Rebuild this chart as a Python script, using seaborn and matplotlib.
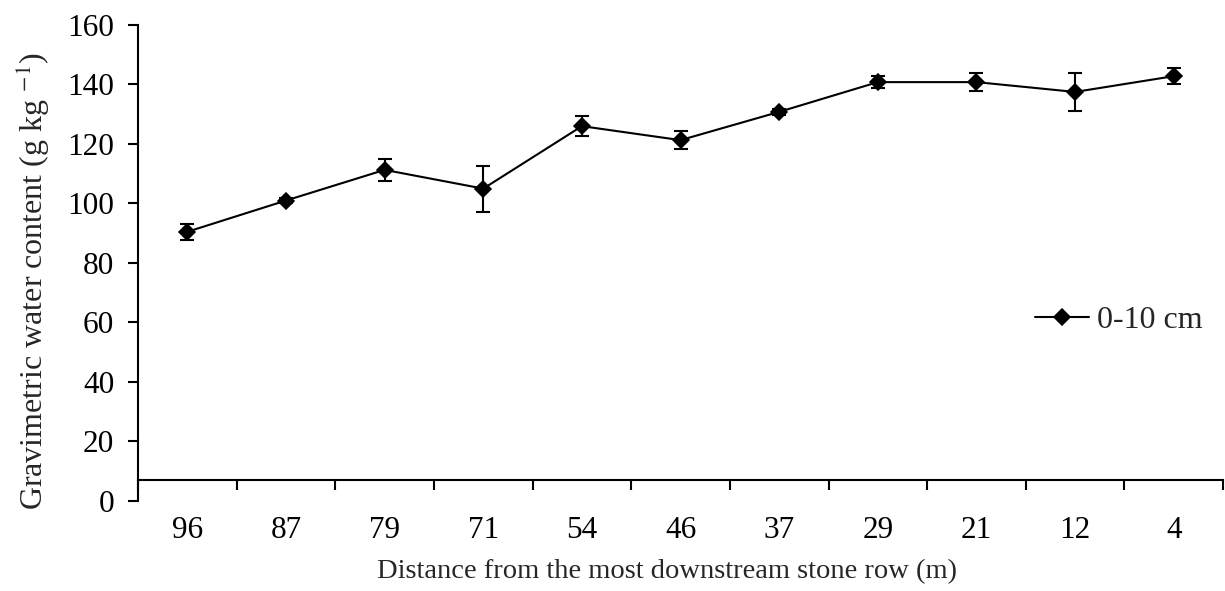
import numpy as np
import seaborn as sns
import matplotlib.pyplot as plt
from matplotlib.ticker import FixedLocator

# values
distances = ["96", "87", "79", "71", "54", "46", "37", "29", "21", "12", "4"]
water = [90.5, 101.0, 111.3, 105.0, 126.0, 121.3, 130.8, 140.8, 140.8, 137.5, 142.8]
err = [2.7, 1.0, 3.6, 7.7, 3.3, 3.0, 1.0, 2.0, 3.0, 6.5, 2.7]
series_name = "0-10 cm"

sns.set_theme(style="white")
plt.rcParams["font.family"] = ["Liberation Serif", "DejaVu Serif"]
plt.rcParams["mathtext.fontset"] = "stix"

fig = plt.figure(figsize=(12.25, 5.91), dpi=100)
ax = fig.add_axes([0.1127, 0.1523, 0.8857, 0.8054])

sns.pointplot(x=distances, y=water, ax=ax, color="black", markers="D",
              linestyles="-", errorbar=None, label=series_name,
              markersize=8, linewidth=1.5)

xpos = np.arange(len(distances))
ax.errorbar(xpos, water, yerr=err, fmt="none", ecolor="black",
            elinewidth=1.5, capsize=5, capthick=1.5, zorder=1)

ax.set_ylim(0, 160)
ax.set_xlim(-0.5, len(distances) - 0.5)
ax.set_yticks(range(0, 161, 20))

for side in ["top", "right"]:
    ax.spines[side].set_visible(False)
ax.spines["left"].set_color("black")
ax.spines["bottom"].set_color("black")
ax.spines["left"].set_linewidth(1.5)
ax.spines["bottom"].set_linewidth(1.5)
ax.spines["bottom"].set_position(("data", 7))

ax.xaxis.set_minor_locator(FixedLocator(np.arange(-0.5, len(distances), 1.0)))
ax.tick_params(axis="x", which="major", length=0, pad=26, labelsize=22.5, colors="black")
ax.tick_params(axis="x", which="minor", bottom=True, length=7.2, width=1.5, direction="out", color="black")
ax.tick_params(axis="y", left=True, length=7.2, width=1.5, direction="out", pad=10,
               labelsize=22.5, colors="black")

ax.set_xlabel("Distance from the most downstream stone row (m)", fontsize=20.5, labelpad=10)
ax.set_ylabel("Gravimetric water content (g kg $^{-1}$)", fontsize=23, labelpad=11)
ax.xaxis.label.set_x(0.4876)
ax.yaxis.label.set_y(0.462)

ax.legend(loc="center left", bbox_to_anchor=(0.8267, 0.38), frameon=False,
          fontsize=23, handlelength=1.7, handletextpad=0.25,
          borderpad=0, borderaxespad=0)

plt.savefig("out.png", dpi=100)
plt.close()
